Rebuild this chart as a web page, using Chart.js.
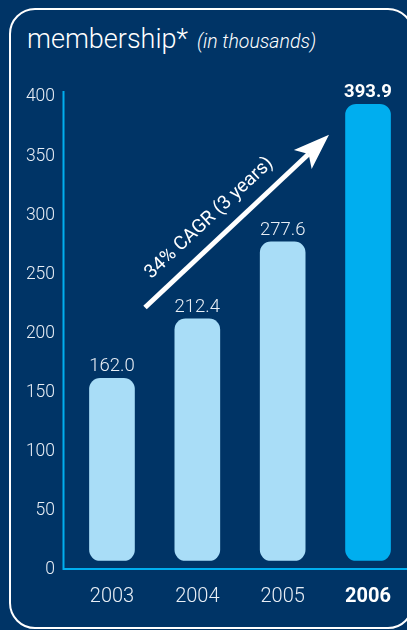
<!DOCTYPE html>
<html>
<head>
<meta charset="utf-8">
<script src="https://cdn.jsdelivr.net/npm/chart.js@4.4.1/dist/chart.umd.min.js"></script>
<style>
  html, body { margin: 0; padding: 0; background: #003466; overflow: hidden; width: 407px; height: 630px; }
  #frame {
    position: absolute; left: 9px; top: 8px; width: 405px; height: 621px;
    box-sizing: border-box; border: 2.5px solid #ffffff; border-radius: 26px;
  }
  #title {
    position: absolute; left: 27px; top: 26px; line-height: 1; white-space: nowrap;
    color: #ffffff; font-family: Roboto, "Open Sans", sans-serif; font-weight: 300; font-size: 27px;
  }
  #title em { font-size: 19.5px; font-style: italic; margin-left: 9px; }
  #wrap { position: absolute; left: 0; top: 0; width: 430px; height: 630px; }
</style>
</head>
<body>
<div id="frame"></div>
<div id="title">membership*<em>(in thousands)</em></div>
<div id="wrap"><canvas id="chart" width="430" height="630"></canvas></div>
<script>
// Membership, in thousands, by year
const years = ['2003', '2004', '2005', '2006'];
const members = [162.0, 212.4, 277.6, 393.9];
const yTicks = [0, 50, 100, 150, 200, 250, 300, 350, 400];
const growthNote = '34% CAGR (3 years)';

const LIGHT = '#a9ddf7';
const BRIGHT = '#00aeef';
const TEXT = '#e8eef5';
const FONT = 'Roboto, "Open Sans", sans-serif';

// Axis lines sit just outside the plot area
const axisLines = {
  id: 'axisLines',
  beforeDatasetsDraw(chart) {
    const { ctx, chartArea, scales } = chart;
    const x0 = chartArea.left - 5.8;
    const yTop = scales.y.getPixelForValue(yTicks[yTicks.length - 1]) - 6;
    const yBot = scales.y.getPixelForValue(0) - 1;
    ctx.save();
    ctx.strokeStyle = BRIGHT;
    ctx.lineWidth = 2;
    ctx.beginPath();
    ctx.moveTo(x0, yTop);
    ctx.lineTo(x0, yBot + 1);
    ctx.moveTo(x0 - 1, yBot);
    ctx.lineTo(chart.width, yBot);
    ctx.stroke();
    ctx.restore();
  }
};

// Value labels above each bar
const valueLabels = {
  id: 'valueLabels',
  afterDatasetsDraw(chart) {
    const { ctx } = chart;
    const meta = chart.getDatasetMeta(0);
    ctx.save();
    ctx.textAlign = 'center';
    ctx.textBaseline = 'alphabetic';
    meta.data.forEach((bar, i) => {
      const last = i === members.length - 1;
      ctx.fillStyle = last ? '#ffffff' : TEXT;
      ctx.font = (last ? '700 ' : '300 ') + '18.5px ' + FONT;
      ctx.fillText(members[i].toFixed(1), bar.x, bar.y - 7);
    });
    ctx.restore();
  }
};

// Growth arrow spanning from the early years up to the latest bar
const growthArrow = {
  id: 'growthArrow',
  afterDatasetsDraw(chart) {
    const { ctx, scales } = chart;
    const sx = scales.x.getPixelForValue(0.387), sy = scales.y.getPixelForValue(222);
    const ex = scales.x.getPixelForValue(2.543), ey = scales.y.getPixelForValue(368);
    const dx = ex - sx, dy = ey - sy;
    const len = Math.hypot(dx, dy);
    const ang = Math.atan2(dy, dx);
    ctx.save();
    ctx.translate(sx, sy);
    ctx.rotate(ang);
    ctx.fillStyle = '#ffffff';
    ctx.strokeStyle = '#ffffff';
    ctx.lineWidth = 5;
    ctx.beginPath();
    ctx.moveTo(0, 0);
    ctx.lineTo(len - 28, 0);
    ctx.stroke();
    ctx.beginPath();
    ctx.moveTo(len, 0);
    ctx.lineTo(len - 36, -13);
    ctx.lineTo(len - 28, 0);
    ctx.lineTo(len - 36, 13);
    ctx.closePath();
    ctx.fill();
    ctx.font = '400 19px ' + FONT;
    ctx.textAlign = 'center';
    ctx.textBaseline = 'middle';
    ctx.fillText(growthNote, 108, -21);
    ctx.restore();
  }
};

new Chart(document.getElementById('chart'), {
  type: 'bar',
  data: {
    labels: years,
    datasets: [{
      data: members,
      backgroundColor: members.map((v, i) => i === members.length - 1 ? BRIGHT : LIGHT),
      borderRadius: 11,
      borderSkipped: false,
      barThickness: 45,
      base: 8
    }]
  },
  options: {
    responsive: false,
    animation: false,
    events: [],
    layout: { padding: { top: 97, right: 19.3, left: 0, bottom: 0 } },
    plugins: { legend: { display: false }, tooltip: { enabled: false }, title: { display: false } },
    scales: {
      x: {
        grid: { display: false, drawTicks: false },
        border: { display: false },
        ticks: {
          color: (c) => c.index === years.length - 1 ? '#ffffff' : TEXT,
          font: (c) => ({ family: FONT, size: 20, weight: c.index === years.length - 1 ? '700' : '300' }),
          padding: 15
        },
        afterFit: (s) => { s.height = 60; }
      },
      y: {
        min: 0,
        max: 400,
        grid: { display: false, drawTicks: false },
        border: { display: false },
        afterBuildTicks: (s) => { s.ticks = yTicks.map(v => ({ value: v })); },
        ticks: {
          color: TEXT,
          font: { family: FONT, size: 17.5, weight: '300' },
          padding: 14.3
        },
        afterFit: (s) => { s.width = 69.3; }
      }
    }
  },
  plugins: [axisLines, growthArrow, valueLabels]
});
</script>
</body>
</html>
